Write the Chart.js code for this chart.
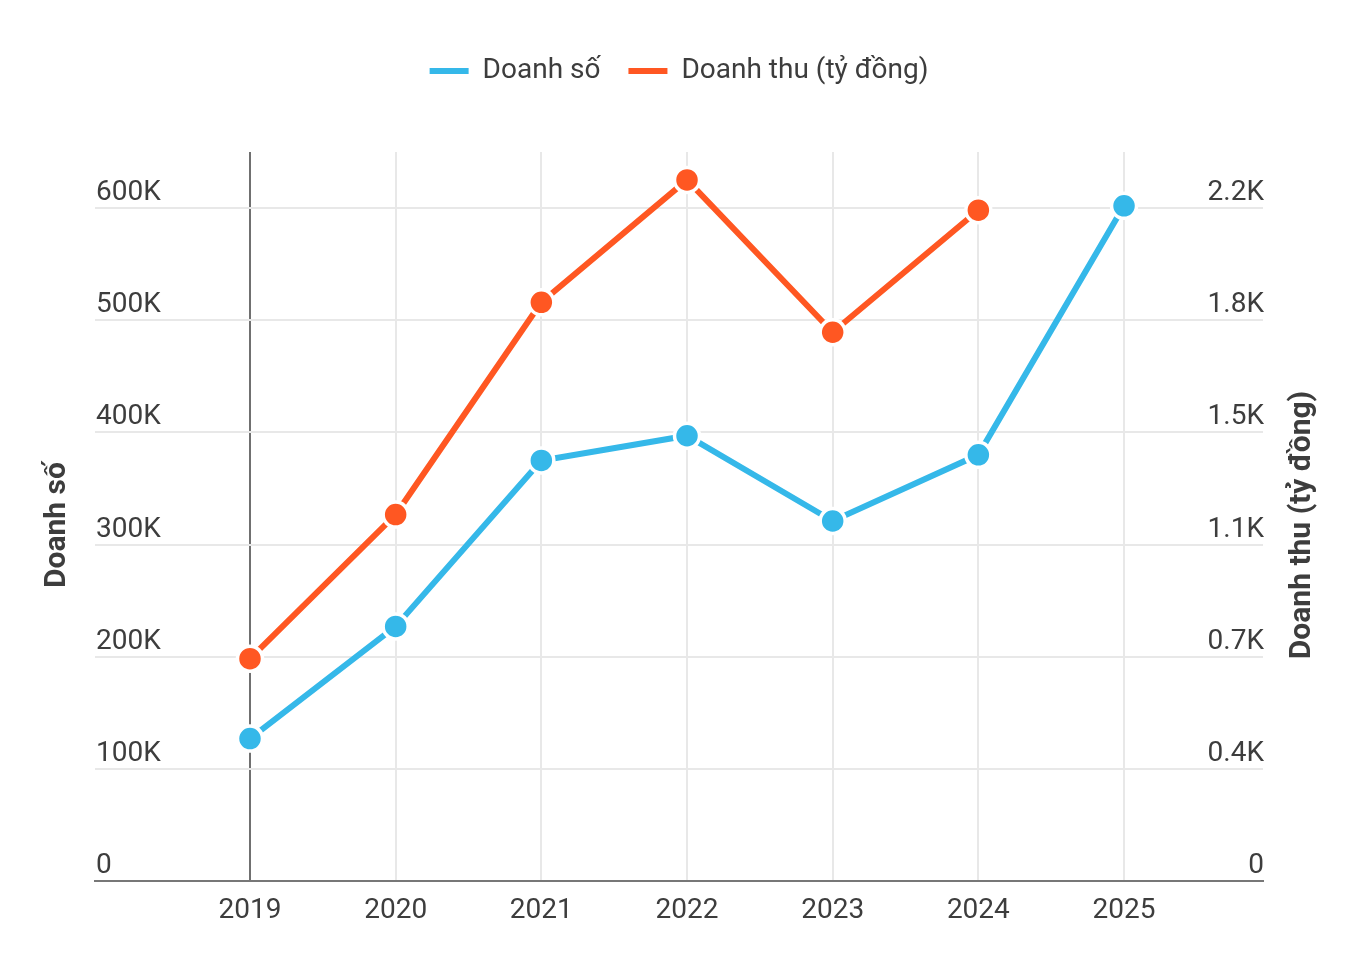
<!DOCTYPE html>
<html>
<head>
<meta charset="utf-8">
<script src="https://cdn.jsdelivr.net/npm/chart.js@4.4.1/dist/chart.umd.min.js"></script>
<style>
  html, body { margin: 0; padding: 0; background: #fff; }
  #chart { display: block; }
</style>
</head>
<body>
<canvas id="chart" width="1358" height="970"></canvas>
<script>
// Dữ liệu
const years = [2019, 2020, 2021, 2022, 2023, 2024, 2025];
const doanhSo = [127000, 227000, 375000, 397000, 321000, 380000, 602000];
const doanhThu = [727, 1198, 1892, 2292, 1794, 2193, null];

const leftTickValues = [0, 100000, 200000, 300000, 400000, 500000, 600000];
const leftTickLabels = ['0', '100K', '200K', '300K', '400K', '500K', '600K'];
const rightTickValues = [0, 366.67, 733.33, 1100, 1466.67, 1833.33, 2200];
const rightTickLabels = ['0', '0.4K', '0.7K', '1.1K', '1.5K', '1.8K', '2.2K'];

const seriesNames = ['Doanh số', 'Doanh thu (tỷ đồng)'];
const leftTitle = 'Doanh số';
const rightTitle = 'Doanh thu (tỷ đồng)';

const BLUE = '#35B8E9';
const ORANGE = '#FF5722';
const TEXT = '#3d3d3d';
const FONT = 'Roboto, "Noto Sans", sans-serif';

// Tiêu đề trục vẽ tay (trục phải đọc từ dưới lên)
const axisTitles = {
  id: 'axisTitles',
  afterDraw(chart) {
    const ctx = chart.ctx;
    const midY = 525;
    ctx.save();
    ctx.fillStyle = TEXT;
    ctx.font = 'bold 30px ' + FONT;
    ctx.textAlign = 'center';
    ctx.textBaseline = 'middle';
    [[57, leftTitle], [1302, rightTitle]].forEach(([x, t]) => {
      ctx.save();
      ctx.translate(x, midY);
      ctx.rotate(-Math.PI / 2);
      ctx.fillText(t, 0, 0);
      ctx.restore();
    });
    ctx.restore();
  }
};

// Chừa khoảng trống dưới chú thích
const legendSpace = {
  id: 'legendSpace',
  beforeInit(chart) {
    const fit = chart.legend.fit;
    chart.legend.fit = function () {
      fit.bind(chart.legend)();
      this.height = 123;
    };
  }
};

const ctx = document.getElementById('chart').getContext('2d');
new Chart(ctx, {
  type: 'line',
  data: {
    datasets: [
      {
        label: seriesNames[0],
        data: years.map((y, i) => ({ x: y, y: doanhSo[i] })),
        yAxisID: 'y',
        borderColor: BLUE,
        backgroundColor: BLUE,
        borderWidth: 6,
        pointRadius: 12.5,
        pointBorderWidth: 3.5,
        pointBackgroundColor: BLUE,
        pointBorderColor: '#fff',
        tension: 0
      },
      {
        label: seriesNames[1],
        data: years.map((y, i) => ({ x: y, y: doanhThu[i] })),
        yAxisID: 'y1',
        borderColor: ORANGE,
        backgroundColor: ORANGE,
        borderWidth: 6,
        pointRadius: 12.5,
        pointBorderWidth: 3.5,
        pointBackgroundColor: ORANGE,
        pointBorderColor: '#fff',
        tension: 0
      }
    ]
  },
  options: {
    responsive: false,
    animation: false,
    devicePixelRatio: 1,
    events: [],
    layout: { padding: { top: 29, left: 0, right: 0, bottom: 0 } },
    plugins: {
      tooltip: { enabled: false },
      legend: {
        position: 'top',
        align: 'center',
        labels: {
          color: TEXT,
          font: { family: FONT, size: 28 },
          boxWidth: 39,
          boxHeight: 6,
          padding: 28,
          generateLabels(chart) {
            return chart.data.datasets.map((d, i) => ({
              text: d.label,
              fillStyle: d.borderColor,
              strokeStyle: d.borderColor,
              lineWidth: 0,
              fontColor: TEXT,
              datasetIndex: i
            }));
          }
        }
      }
    },
    scales: {
      x: {
        type: 'linear',
        min: 2017.936,
        max: 2025.954,
        afterBuildTicks(scale) { scale.ticks = years.map(v => ({ value: v })); },
        afterFit(scale) { scale.height = 89; },
        ticks: {
          color: TEXT,
          font: { family: FONT, size: 28 },
          padding: 13,
          autoSkip: false,
          maxRotation: 0,
          callback: (v, i) => String(years[i])
        },
        grid: {
          drawTicks: false,
          lineWidth: 2,
          color: c => (c.tick && c.tick.value === 2019 ? '#707070' : '#e8e8e8')
        },
        border: { display: true, color: '#777', width: 2 }
      },
      y: {
        position: 'left',
        min: 0,
        max: 650000,
        afterBuildTicks(scale) { scale.ticks = leftTickValues.map(v => ({ value: v })); },
        afterFit(scale) { scale.width = 95; },
        ticks: {
          mirror: true,
          padding: 1,
          labelOffset: -15,
          color: TEXT,
          font: { family: FONT, size: 28 },
          callback: (v, i) => leftTickLabels[i]
        },
        grid: { drawTicks: false, lineWidth: 2, color: '#e8e8e8' },
        border: { display: false }
      },
      y1: {
        position: 'right',
        min: 0,
        max: 2200 * 650000 / 600000,
        afterBuildTicks(scale) { scale.ticks = rightTickValues.map(v => ({ value: v })); },
        afterFit(scale) { scale.width = 95; },
        ticks: {
          mirror: true,
          padding: 1,
          labelOffset: -15,
          color: TEXT,
          font: { family: FONT, size: 28 },
          callback: (v, i) => rightTickLabels[i]
        },
        grid: { drawOnChartArea: false, drawTicks: false },
        border: { display: false }
      }
    }
  },
  plugins: [legendSpace, axisTitles]
});
</script>
</body>
</html>
